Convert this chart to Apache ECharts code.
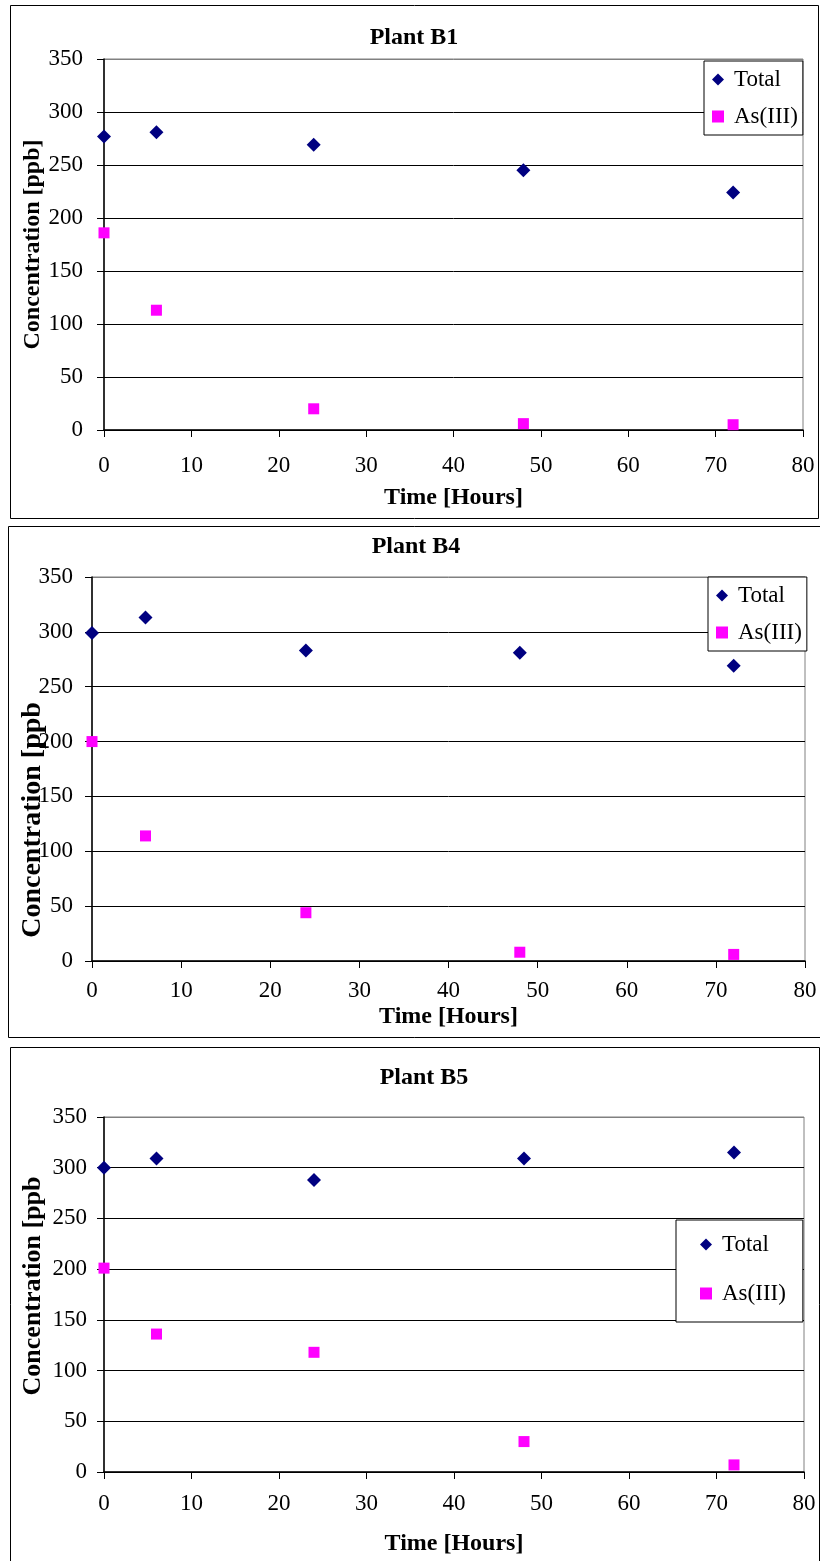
<!DOCTYPE html>
<html>
<head>
<meta charset="utf-8">
<script src="https://cdn.jsdelivr.net/npm/echarts@6/dist/echarts.min.js"></script>
<style>
html,body{margin:0;padding:0;background:#fff;}
#chart{width:820px;height:1561px;}
</style>
</head>
<body>
<div id="chart"></div>
<script>
// ---- data ----
const hours = [0, 6, 24, 48, 72];
const plantNames = ['Plant B1', 'Plant B4', 'Plant B5'];
const b1Total = [277, 281, 269, 245, 224];
const b1As3 = [186, 113, 20, 6, 5];
const b4Total = [299, 313, 283, 281, 269];
const b4As3 = [200, 114, 44, 8, 6];
const b5Total = [300, 309, 288, 309, 315];
const b5As3 = [201, 136, 118, 30, 7];
const xTicks = [0, 10, 20, 30, 40, 50, 60, 70, 80];
const yTicks = [0, 50, 100, 150, 200, 250, 300, 350];
const seriesNames = ['Total', 'As(III)'];
const xName = 'Time [Hours]';
const yNames = ['Concentration [ppb]', 'Concentration [ppb', 'Concentration [ppb'];

const FONT = "'Liberation Serif', 'Times New Roman', serif";
const pairs = (xs, ys) => xs.map((x, i) => [x, ys[i]]);

// layout per panel
const panels = [
  { box: [10, 5, 808, 513], grid: { left: 104, top: 59, width: 699, height: 371 },
    titleX: 414, titleY: 26, yGap: 59, yNameSize: 24, yNamePad: [0, 0, 0, 0],
    yLabMargin: 21, xLabMargin: 24, xGap: 56,
    legend: { left: 704, top: 61, padding: [7, 5, 7, 8], itemGap: 14 },
    total: b1Total, as3: b1As3 },
  { box: [8, 526, 814, 511], grid: { left: 92, top: 577, width: 713, height: 384 },
    titleX: 416, titleY: 535, yGap: 45, yNameSize: 28, yNamePad: [0, 102, 0, 0],
    yLabMargin: 19, xLabMargin: 18, xGap: 44,
    legend: { left: 708, top: 577, padding: [7, 5, 7, 8], itemGap: 14 },
    total: b4Total, as3: b4As3 },
  { box: [10, 1047, 809, 520], grid: { left: 104, top: 1117, width: 700, height: 355 },
    titleX: 424, titleY: 1066, yGap: 58, yNameSize: 26, yNamePad: [0, 0, 0, 17],
    yLabMargin: 17, xLabMargin: 20, xGap: 60,
    legend: { left: 676, top: 1220, padding: [13, 17, 17, 24], itemGap: 26 },
    total: b5Total, as3: b5As3 }
];

const option = {
  backgroundColor: '#fff',
  animation: false,
  title: [], grid: [], xAxis: [], yAxis: [], legend: [], series: [],
  graphic: []
};

panels.forEach((p, i) => {
  option.graphic.push({
    type: 'rect', shape: { x: p.box[0] + 0.5, y: p.box[1] + 0.5, width: p.box[2], height: p.box[3] },
    style: { fill: 'none', stroke: '#000', lineWidth: 1 }, z: -1, silent: true
  });
  option.title.push({
    text: plantNames[i], left: p.titleX, top: p.titleY, textAlign: 'center', padding: 0,
    textStyle: { fontFamily: FONT, fontSize: 24, fontWeight: 'bold', color: '#000' }
  });
  option.grid.push(Object.assign({ show: true, borderColor: '#808080', borderWidth: 1, backgroundColor: 'transparent' }, p.grid));
  option.xAxis.push({
    type: 'value', gridIndex: i, min: xTicks[0], max: xTicks[xTicks.length - 1], interval: xTicks[1] - xTicks[0],
    name: xName, nameLocation: 'middle', nameGap: p.xGap, nameMoveOverlap: false,
    nameTextStyle: { fontFamily: FONT, fontSize: 24, fontWeight: 'bold', color: '#000' },
    axisLine: { show: true, onZero: false, lineStyle: { color: '#000', width: 1.5 } },
    axisTick: { show: true, inside: false, length: 7, lineStyle: { color: '#000' } },
    axisLabel: { margin: p.xLabMargin, fontFamily: FONT, fontSize: 23, color: '#000' },
    splitLine: { show: false }
  });
  option.yAxis.push({
    type: 'value', gridIndex: i, min: yTicks[0], max: yTicks[yTicks.length - 1], interval: yTicks[1] - yTicks[0],
    name: yNames[i], nameLocation: 'middle', nameGap: p.yGap, nameMoveOverlap: false,
    nameTextStyle: { fontFamily: FONT, fontSize: p.yNameSize, fontWeight: 'bold', color: '#000', padding: p.yNamePad },
    axisLine: { show: true, lineStyle: { color: '#000', width: 1.5 } },
    axisTick: { show: true, inside: false, length: 7, lineStyle: { color: '#000' } },
    axisLabel: { margin: p.yLabMargin, fontFamily: FONT, fontSize: 23, color: '#000' },
    splitLine: { show: true, lineStyle: { color: ['#000', '#000', '#000', '#000', '#000', '#000', '#000', '#808080'], width: 1 } }
  });
  option.legend.push({
    orient: 'vertical', left: p.legend.left, top: p.legend.top, padding: p.legend.padding,
    itemGap: p.legend.itemGap, itemWidth: 12, itemHeight: 12,
    borderColor: '#000', borderWidth: 1, backgroundColor: '#fff', selectedMode: false,
    textStyle: { fontFamily: FONT, fontSize: 23, color: '#000', padding: [0, 0, 0, 5] },
    data: [{ name: seriesNames[0], icon: 'diamond' }, { name: seriesNames[1], icon: 'rect' }]
  });
  option.series.push({
    type: 'scatter', name: seriesNames[0], xAxisIndex: i, yAxisIndex: i,
    symbol: 'diamond', symbolSize: 14, clip: false,
    itemStyle: { color: '#000080', opacity: 1 }, data: pairs(hours, p.total), z: 5
  });
  option.series.push({
    type: 'scatter', name: seriesNames[1], xAxisIndex: i, yAxisIndex: i,
    symbol: 'rect', symbolSize: 11, clip: false,
    itemStyle: { color: '#FF00FF', opacity: 1 }, data: pairs(hours, p.as3), z: 5
  });
});

const chart = echarts.init(document.getElementById('chart'), null, { renderer: 'canvas' });
chart.setOption(option);
</script>
</body>
</html>
